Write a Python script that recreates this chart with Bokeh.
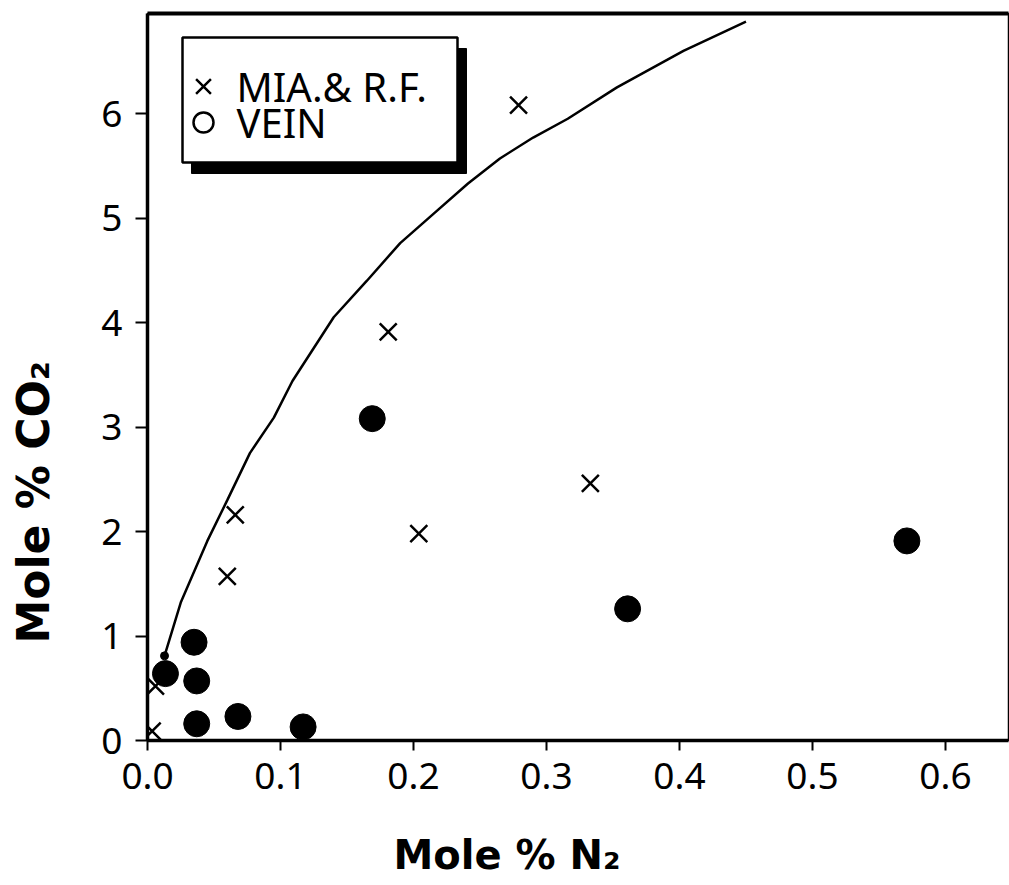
import math
from bokeh.plotting import figure
from bokeh.models import (Range1d, FixedTicker, LinearAxis, BoxAnnotation, Title)
from bokeh.core.properties import value
from bokeh.embed import file_html
from bokeh.resources import INLINE

# ---- data ----
mia_n2 = [0.279, 0.181, 0.333, 0.204, 0.066, 0.060, 0.006, 0.0035]
mia_co2 = [6.08, 3.91, 2.46, 1.98, 2.16, 1.57, 0.52, 0.09]

vein_n2 = [0.169, 0.571, 0.361, 0.035, 0.0135, 0.037, 0.037, 0.068, 0.117]
vein_co2 = [3.08, 1.91, 1.26, 0.94, 0.64, 0.57, 0.16, 0.23, 0.13]

curve_n2 = [0.0128, 0.025, 0.045, 0.060, 0.077, 0.095, 0.109, 0.140, 0.165,
            0.190, 0.215, 0.241, 0.265, 0.290, 0.316, 0.353, 0.403, 0.450]
curve_co2 = [0.81, 1.32, 1.91, 2.30, 2.75, 3.09, 3.44, 4.05, 4.40,
             4.76, 5.04, 5.33, 5.57, 5.77, 5.95, 6.25, 6.60, 6.88]

x_ticks = [0.0, 0.1, 0.2, 0.3, 0.4, 0.5, 0.6]
x_tick_labels = ["0.0", "0.1", "0.2", "0.3", "0.4", "0.5", "0.6"]
y_ticks = [0, 1, 2, 3, 4, 5, 6]
y_tick_labels = ["0", "1", "2", "3", "4", "5", "6"]

legend_labels = ["MIA.& R.F.", "VEIN"]
x_title = "Mole % N\u2082"
y_title = "Mole % CO\u2082"

# ---- layout ----
X0, X1 = 0.0, 0.6474
Y0, Y1 = 0.0, 6.957
FW, FH = 861, 727
LEFT, TOP = 147, 13

def px_x(px):
    return X0 + (px - LEFT) / FW * (X1 - X0)

def px_y(py):
    return Y0 + (TOP + FH - py) / FH * (Y1 - Y0)

TICK_FONT = "Noto Sans"
TITLE_FONT = "DejaVu Sans"

p = figure(frame_width=FW, frame_height=FH,
           x_range=Range1d(X0, X1), y_range=Range1d(Y0, Y1),
           output_backend="svg", toolbar_location=None,
           min_border_left=LEFT, min_border_right=1,
           min_border_top=TOP, min_border_bottom=885 - TOP - FH,
           background_fill_color="white", border_fill_color="white")
p.xgrid.visible = False
p.ygrid.visible = False
p.outline_line_color = "black"
p.outline_line_width = 1.5

for ax in (p.xaxis[0], p.yaxis[0]):
    ax.axis_line_color = "black"
    ax.axis_line_width = 3.5
    ax.major_tick_line_color = "black"
    ax.major_tick_line_width = 2
    ax.major_tick_in = 0
    ax.minor_tick_line_color = None
    ax.major_label_text_font = TICK_FONT
    ax.major_label_text_font_size = "37px"
    ax.major_label_text_color = "black"

p.xaxis[0].ticker = FixedTicker(ticks=x_ticks)
p.xaxis[0].major_label_overrides = dict(zip(x_ticks, x_tick_labels))
p.xaxis[0].major_tick_out = 10
p.xaxis[0].major_label_standoff = 12

p.yaxis[0].ticker = FixedTicker(ticks=y_ticks)
p.yaxis[0].major_label_overrides = dict(zip(y_ticks, y_tick_labels))
p.yaxis[0].major_tick_out = 12
p.yaxis[0].major_label_standoff = 13

top_axis = LinearAxis(ticker=FixedTicker(ticks=[]), axis_line_width=4,
                      axis_line_color="black", major_tick_out=0, major_tick_in=0,
                      minor_tick_out=0, minor_tick_in=0,
                      major_label_text_font_size="0px")
p.add_layout(top_axis, "above")

# ---- axis titles (side titles, offset along the axis like the original) ----
# thin spacer panels push the titles outward without reserving extra room
p.add_layout(Title(text=" ", text_font_size="1px", standoff=37), "below")
p.add_layout(Title(text=x_title, align="left", offset=246, standoff=0,
                   vertical_align="top",
                   text_font=TITLE_FONT, text_font_style="bold",
                   text_font_size="40px", text_color="black"), "below")
p.add_layout(Title(text=" ", text_font_size="1px", standoff=35), "left")
p.add_layout(Title(text=y_title, align="left", offset=97, standoff=0,
                   vertical_align="top",
                   text_font=TITLE_FONT, text_font_style="bold",
                   text_font_size="44px", text_color="black"), "left")

# ---- legend box (drawn by hand, with its drop shadow) ----
LB_L, LB_T, LB_R, LB_B = 182, 37, 457, 162
SH_DX, SH_DY = 9, 11
shadow = BoxAnnotation(left=px_x(LB_L + SH_DX), right=px_x(LB_R + SH_DX),
                       top=px_y(LB_T + SH_DY), bottom=px_y(LB_B + SH_DY),
                       fill_color="black", fill_alpha=1.0,
                       line_color="black", line_alpha=1.0, level="underlay")
box = BoxAnnotation(left=px_x(LB_L), right=px_x(LB_R),
                    top=px_y(LB_T), bottom=px_y(LB_B),
                    fill_color="white", fill_alpha=1.0, line_color="black",
                    line_alpha=1.0, line_width=2.5, level="underlay")
p.add_layout(shadow)
p.add_layout(box)

row_y = [px_y(86), px_y(122)]
p.scatter(x=[px_x(203)], y=[row_y[0]], marker="x", size=21,
          line_color="black", line_width=2.5)
p.scatter(x=[px_x(203)], y=[row_y[1]], marker="circle", size=20,
          fill_color=None, line_color="black", line_width=2.5)
p.text(x=[px_x(236)] * 2, y=row_y, text=legend_labels,
       text_font=value(TICK_FONT), text_font_size="40px",
       text_baseline="middle", text_align="left", text_color="black")

# ---- data ----
p.line(curve_n2, curve_co2, line_color="black", line_width=2.5)
p.scatter(curve_n2[:1], curve_co2[:1], marker="circle", size=8,
          fill_color="black", line_color="black")
p.scatter(vein_n2, vein_co2, marker="circle", size=26,
          fill_color="black", line_color="black")
p.scatter(mia_n2, mia_co2, marker="x", size=24,
          line_color="black", line_width=2.5)

open("out.html", "w").write(file_html(p, INLINE))
